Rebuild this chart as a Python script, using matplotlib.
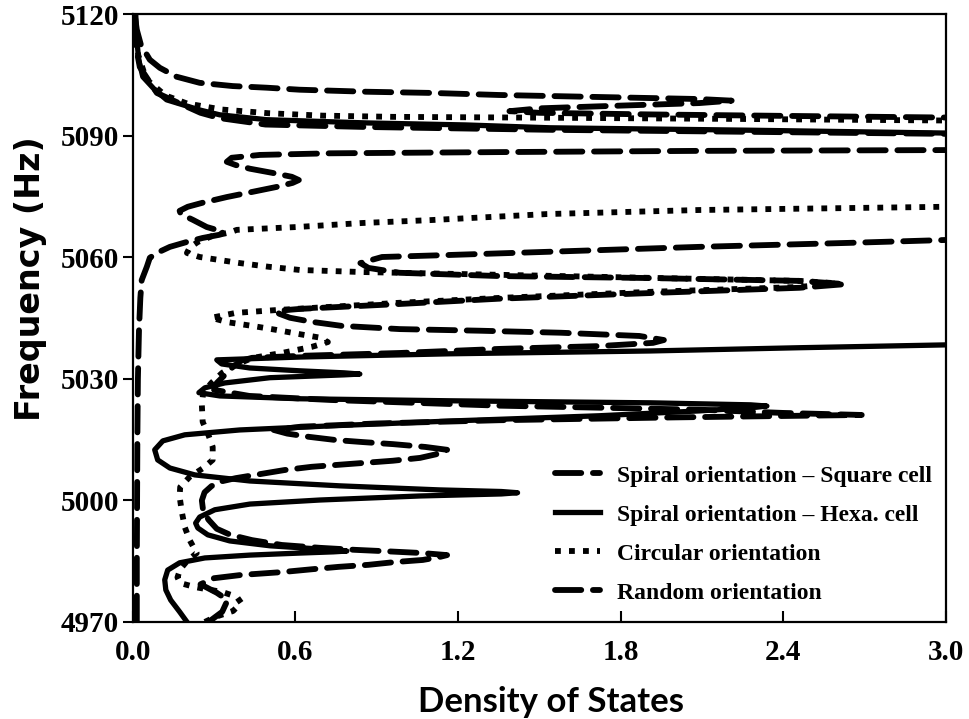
import matplotlib
matplotlib.use("Agg")
import matplotlib.pyplot as plt

# Spiral orientation - Square cell (dashed)
square_freq = [4970.0, 4972.5, 4975.4, 4977.2, 4979.3, 4980.8, 4981.6, 4982.3, 4983.0, 4983.6,
               4984.1, 4984.8, 4985.3, 4986.0, 4986.5, 4987.0, 4987.4, 4987.8, 4988.3, 4989.0,
               4990.2, 4991.5, 4993.0, 4995.2, 4997.3, 5000.0, 5002.0, 5003.5, 5004.6, 5005.5,
               5006.5, 5007.5, 5008.3, 5008.8, 5009.3, 5009.8, 5010.5, 5011.7, 5012.5, 5013.2,
               5013.9, 5014.4, 5014.9, 5015.7, 5016.5, 5017.4, 5018.2, 5019.0, 5019.8, 5020.5,
               5021.1, 5021.6, 5022.4, 5023.4, 5024.8, 5025.8, 5027.3, 5029.0, 5031.0, 5033.0,
               5034.5, 5035.2, 5035.7, 5036.4, 5037.4, 5038.1, 5038.9, 5039.6, 5040.6, 5041.4,
               5041.9, 5042.3, 5043.1, 5044.1, 5045.1, 5046.1, 5046.8, 5047.3, 5048.5, 5049.8,
               5051.2, 5052.5, 5053.4, 5054.2, 5054.9, 5055.4, 5056.2, 5057.4, 5058.6, 5060.1,
               5060.6, 5061.4, 5062.6, 5063.6, 5064.3, 5065.0, 5090.0, 5090.5, 5091.0, 5091.5,
               5092.2, 5092.8, 5094.4, 5095.7, 5098.1, 5100.6, 5107.0, 5113.7, 5120.0]
square_dos = [0.28, 0.33, 0.35, 0.31, 0.25, 0.30, 0.40, 0.55, 0.66, 0.76,
              0.87, 0.97, 1.07, 1.13, 1.16, 1.07, 0.95, 0.82, 0.69, 0.55,
              0.44, 0.36, 0.31, 0.28, 0.26, 0.255, 0.265, 0.29, 0.32, 0.38,
              0.47, 0.56, 0.66, 0.76, 0.86, 0.96, 1.06, 1.14, 1.16, 1.08,
              0.96, 0.85, 0.75, 0.65, 0.57, 0.52, 0.62, 0.90, 1.35, 2.0,
              2.69, 2.40, 2.09, 1.35, 0.73, 0.43, 0.30, 0.31, 0.34, 0.37,
              0.40, 0.44, 0.62, 0.985, 1.35, 1.72, 1.92, 1.96, 1.87, 1.58,
              1.28, 0.985, 0.77, 0.66, 0.58, 0.54, 0.53, 0.62, 0.985, 1.35,
              1.91, 2.46, 2.63, 2.46, 1.91, 1.35, 0.985, 0.87, 0.84, 0.92,
              1.17, 1.54, 2.09, 2.65, 3.0, 3.6, 3.6, 3.0, 2.28, 1.54,
              0.86, 0.49, 0.32, 0.25, 0.17, 0.089, 0.026, 0.007, 0.004]

# Spiral orientation - Hexa. cell (solid)
hexa_freq = [4970.0, 4972.5, 4975.4, 4977.9, 4980.4, 4982.8, 4984.6, 4985.8, 4986.5, 4987.0,
             4987.3, 4987.5, 4987.7, 4988.0, 4988.8, 4990.0, 4991.5, 4993.2, 4994.4, 4995.9,
             4997.7, 4999.1, 5000.1, 5001.1, 5001.6, 5001.9, 5002.2, 5002.6, 5003.6, 5004.8,
             5006.3, 5008.0, 5010.0, 5012.5, 5014.7, 5016.2, 5017.4, 5018.4, 5019.6, 5020.9,
             5022.1, 5023.0, 5023.3, 5023.6, 5024.1, 5024.6, 5025.1, 5025.8, 5026.6, 5027.8,
             5029.0, 5030.3, 5031.0, 5031.2, 5031.5, 5032.0, 5032.7, 5033.7, 5034.7, 5035.4,
             5036.2, 5036.9, 5037.7, 5038.4, 5039.5, 5089.5, 5090.7, 5091.4, 5092.0, 5092.7,
             5093.2, 5094.0, 5095.2, 5096.4, 5098.9, 5101.4, 5104.6, 5108.8, 5113.7, 5120.0]
hexa_dos = [0.20, 0.173, 0.14, 0.122, 0.118, 0.129, 0.173, 0.266, 0.432, 0.616,
            0.74, 0.79, 0.76, 0.69, 0.506, 0.358, 0.277, 0.24, 0.232, 0.247,
            0.303, 0.432, 0.69, 1.06, 1.36, 1.42, 1.36, 1.13, 0.764, 0.432,
            0.229, 0.137, 0.092, 0.081, 0.111, 0.192, 0.395, 0.727, 1.17, 1.72,
            2.09, 2.30, 2.34, 2.28, 1.91, 1.17, 0.616, 0.321, 0.244, 0.266,
            0.339, 0.506, 0.78, 0.838, 0.78, 0.616, 0.432, 0.328, 0.31, 0.616,
            1.17, 1.91, 2.46, 3.0, 3.6, 3.6, 3.0, 2.28, 1.54, 1.23,
            0.863, 0.494, 0.321, 0.247, 0.125, 0.081, 0.037, 0.022, 0.015, 0.011]

# Circular orientation (dotted)
circ_freq = [4970.0, 4971.2, 4972.7, 4974.7, 4976.2, 4977.4, 4978.6, 4979.6, 4981.0, 4983.0,
             4985.0, 4987.0, 4990.2, 4993.4, 4997.2, 5000.9, 5003.3, 5005.8, 5008.0, 5010.0,
             5013.2, 5016.0, 5019.4, 5023.6, 5026.6, 5029.0, 5031.5, 5033.5, 5035.2, 5036.4,
             5037.9, 5039.1, 5040.2, 5041.0, 5042.1, 5043.1, 5044.0, 5045.1, 5046.3, 5047.0,
             5048.8, 5050.0, 5051.5, 5052.7, 5053.6, 5054.2, 5055.7, 5056.4, 5056.9, 5057.7,
             5058.6, 5060.1, 5061.1, 5062.4, 5063.8, 5065.2, 5066.2, 5066.8, 5067.5, 5068.5,
             5069.2, 5070.7, 5071.7, 5072.5, 5073.0, 5093.3, 5093.8, 5094.2, 5094.5, 5094.7,
             5095.0, 5095.6, 5096.5, 5098.0, 5100.0, 5104.0, 5110.0, 5120.0]
circ_dos = [0.266, 0.303, 0.37, 0.40, 0.384, 0.33, 0.23, 0.175, 0.165, 0.175,
            0.20, 0.236, 0.21, 0.192, 0.181, 0.173, 0.175, 0.21, 0.26, 0.295,
            0.295, 0.28, 0.258, 0.255, 0.26, 0.29, 0.33, 0.38, 0.443, 0.55,
            0.66, 0.72, 0.69, 0.62, 0.53, 0.44, 0.35, 0.29, 0.38, 0.53,
            0.985, 1.354, 1.91, 2.46, 2.60, 2.46, 1.354, 0.838, 0.616, 0.50,
            0.395, 0.247, 0.20, 0.21, 0.24, 0.29, 0.36, 0.384, 0.605, 0.849,
            1.096, 1.528, 2.09, 3.0, 3.6, 3.6, 3.0, 2.2, 1.5, 0.96,
            0.70, 0.50, 0.33, 0.20, 0.12, 0.05, 0.02, 0.008]

# Random orientation (dashed)
rand_freq = [4970.0, 4985.0, 5000.0, 5015.0, 5030.0, 5042.0, 5050.0, 5054.4, 5057.7, 5059.9,
             5061.1, 5062.6, 5063.8, 5064.8, 5065.6, 5066.3, 5067.5, 5069.3, 5070.7, 5071.5,
             5072.5, 5073.5, 5074.9, 5076.2, 5077.4, 5078.4, 5079.1, 5079.9, 5080.9, 5081.9,
             5082.8, 5083.6, 5084.6, 5085.3, 5085.7, 5086.0, 5086.3, 5086.5, 5087.0, 5094.0,
             5094.5, 5094.9, 5095.3, 5095.7, 5096.1, 5096.8, 5097.3, 5098.1, 5098.7, 5099.1,
             5099.6, 5100.1, 5100.6, 5100.9, 5101.4, 5101.9, 5102.3, 5103.1, 5104.6, 5106.8,
             5108.8, 5112.5, 5116.2, 5120.0]
rand_dos = [0.015, 0.015, 0.016, 0.017, 0.019, 0.023, 0.028, 0.033, 0.052, 0.063,
            0.089, 0.137, 0.199, 0.258, 0.321, 0.335, 0.273, 0.221, 0.177, 0.173,
            0.203, 0.258, 0.347, 0.443, 0.531, 0.59, 0.613, 0.587, 0.513, 0.432,
            0.38, 0.347, 0.365, 0.469, 0.727, 1.354, 2.09, 3.0, 3.6, 3.6,
            3.05, 2.46, 1.91, 1.50, 1.39, 1.50, 1.72, 2.09, 2.21, 2.09,
            1.72, 1.35, 1.107, 0.863, 0.616, 0.494, 0.369, 0.247, 0.162, 0.10,
            0.063, 0.03, 0.015, 0.007]

labels = ["Spiral orientation \u2013 Square cell", "Spiral orientation \u2013 Hexa. cell",
          "Circular orientation", "Random orientation"]
x_ticks = [0.0, 0.6, 1.2, 1.8, 2.4, 3.0]
y_ticks = [4970, 5000, 5030, 5060, 5090, 5120]

fig = plt.figure(figsize=(9.69, 7.19), dpi=100)
ax = fig.add_axes([0.137, 0.135, 0.839, 0.845])

ax.plot(square_dos, square_freq, color="black", lw=4.2, linestyle=(0, (4.5, 2.0)),
        dash_capstyle="round", label=labels[0])
ax.plot(hexa_dos, hexa_freq, color="black", lw=3.8, solid_joinstyle="round", label=labels[1])
ax.plot(circ_dos, circ_freq, color="black", lw=4.2, linestyle=(0, (1.0, 1.4)), label=labels[2])
ax.plot(rand_dos, rand_freq, color="black", lw=4.2, linestyle=(0, (4.5, 2.0)),
        dash_capstyle="round", label=labels[3])

ax.set_xlim(0, 3.0)
ax.set_ylim(4970, 5120)
ax.set_xticks(x_ticks)
ax.set_xticklabels([f"{v:.1f}" for v in x_ticks])
ax.set_yticks(y_ticks)

for s in ax.spines.values():
    s.set_linewidth(1.6)
ax.tick_params(axis="x", direction="in", length=8, width=1.5, pad=12)
ax.tick_params(axis="y", direction="out", length=7, width=1.5, pad=3)
for lab in ax.get_xticklabels() + ax.get_yticklabels():
    lab.set_fontfamily("Liberation Serif")
    lab.set_fontweight("bold")
    lab.set_fontsize(21)

ax.set_xlabel("Density of States", fontfamily="Lato", fontweight="bold", fontsize=25, labelpad=17)
ax.xaxis.set_label_coords(0.514, -0.105)
ax.set_ylabel("Frequency (Hz)", fontfamily="DejaVu Sans", fontweight="bold", fontsize=24)
ax.yaxis.set_label_coords(-0.106, 0.565)

ax.legend(loc="upper left", bbox_to_anchor=(0.519, 0.258), frameon=False, borderaxespad=0,
          borderpad=0, handlelength=1.9, handletextpad=0.75, labelspacing=0.74,
          prop={"family": "Liberation Serif", "weight": "bold", "size": 17})

fig.savefig("out.png", dpi=100)
